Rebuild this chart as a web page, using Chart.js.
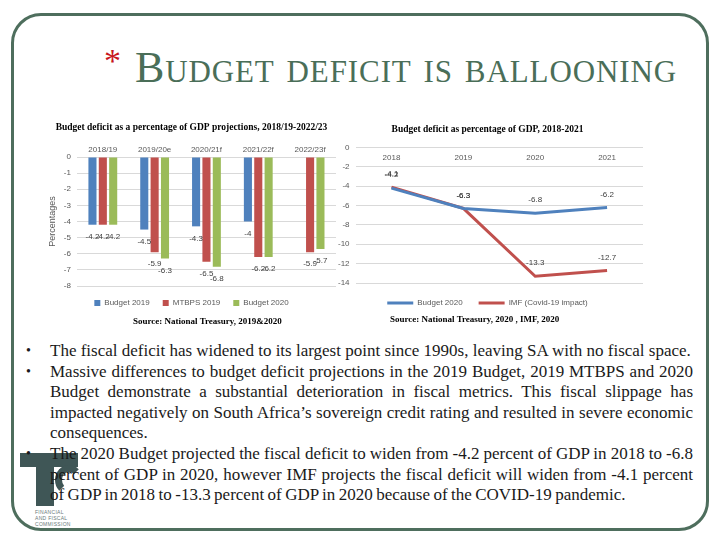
<!DOCTYPE html>
<html>
<head>
<meta charset="utf-8">
<script src="https://cdn.jsdelivr.net/npm/chart.js@4.4.0/dist/chart.umd.min.js"></script>
<style>
    body { margin: 0; width: 720px; height: 540px; background: #fff; position: relative; overflow: hidden; font-family: "Liberation Serif", serif; }
    .frame { position: absolute; left: 11px; top: 13px; width: 698px; height: 518px; border: 3px solid #4e6e5d; border-radius: 30px; box-sizing: border-box; }
    .title { position: absolute; left: 104px; top: 42px; font-size: 44px; letter-spacing: 0.9px; font-variant: small-caps; color: #4a6e58; white-space: nowrap; }
    .title .star { color: #c8161d; font-size: 34px; position: relative; top: -10px; margin-right: 13px; }
    #barBox { position: absolute; left: 47px; top: 116px; width: 291px; height: 203px; }
    #lineBox { position: absolute; left: 332px; top: 116px; width: 312px; height: 203px; }
    .src { position: absolute; font-weight: bold; font-size: 9px; color: #000; white-space: nowrap; }
    .bullets { position: absolute; left: 26px; top: 341px; width: 667px; font-size: 17px; line-height: 20.6px; color: #1a1a1a; margin: 0; padding: 0; list-style: none; }
    .bullets li { position: relative; padding-left: 24px; text-align: justify; }
    .bullets li::before { content: "\2022"; position: absolute; left: 0; font-size: 14px; }
    .bullets li.tight { word-spacing: -0.8px; }
    .logo div { position: absolute; background: #3f5656; }
    .logo .arc { background: none; border: 7px solid #3f5656; border-color: #3f5656 transparent transparent #3f5656; border-radius: 50%; }
    .logo .txt { background: none; color: #6a7a7a; font-family: "Liberation Sans", sans-serif; font-size: 5px; line-height: 6px; letter-spacing: 0.3px; }
</style>
</head>
<body>
<div class="frame"></div>
<div class="title"><span class="star">*</span>Budget deficit is ballooning</div>

<div id="barBox"><canvas id="barChart"></canvas></div>
<div id="lineBox"><canvas id="lineChart"></canvas></div>
<div class="src" style="left:133px; top:316px;">Source: National Treasury, 2019&amp;2020</div>
<div class="src" style="left:390px; top:314px;">Source: National Treasury, 2020 , IMF, 2020</div>

<div class="logo">
    <div style="left:20px; top:453px; width:58px; height:14px;"></div>
    <div style="left:36px; top:453px; width:18px; height:53px;"></div>
    <div class="arc" style="left:55px; top:465px; width:14px; height:16px;"></div>
    <div class="txt" style="left:35px; top:509px;">FINANCIAL<br>AND FISCAL<br>COMMISSION</div>
</div>

<ul class="bullets">
    <li>The fiscal deficit has widened to its largest point since 1990s, leaving SA with no fiscal space.</li>
    <li>Massive differences to budget deficit projections in the 2019 Budget, 2019 MTBPS and 2020 Budget demonstrate a substantial deterioration in fiscal metrics. This fiscal slippage has impacted negatively on South Africa’s sovereign credit rating and resulted in severe economic consequences.</li>
    <li class="tight">The 2020 Budget projected the fiscal deficit to widen from -4.2 percent of GDP in 2018 to -6.8 percent of GDP in 2020, however IMF projects the fiscal deficit will widen from -4.1 percent of&nbsp;GDP in 2018 to -13.3 percent of GDP in 2020 because of the COVID-19 pandemic.</li>
</ul>

<script>
// bar chart data
const barCategories = ['2018/19', '2019/20e', '2020/21f', '2021/22f', '2022/23f'];
const budget2019 = [-4.2, -4.5, -4.3, -4, null];
const mtbps2019 = [-4.2, -5.9, -6.5, -6.2, -5.9];
const budget2020 = [-4.2, -6.3, -6.8, -6.2, -5.7];

// line chart data
const years = ['2018', '2019', '2020', '2021'];
const budget2020Line = [-4.2, -6.3, -6.8, -6.2];
const imfCovid = [-4.1, -6.3, -13.3, -12.7];

const tickColor = '#595959';
const gridColor = '#d9d9d9';
const sans = '"Liberation Sans", Arial, sans-serif';
const serif = '"Liberation Serif", "Times New Roman", serif';

// draws the value of every point next to it
const valueLabels = {
    id: 'valueLabels',
    afterDatasetsDraw(chart, args, opts) {
        const ctx = chart.ctx;
        ctx.save();
        ctx.font = '8px ' + sans;
        ctx.fillStyle = '#404040';
        ctx.textAlign = 'center';
        ctx.textBaseline = 'middle';
        chart.data.datasets.forEach((ds, i) => {
            const meta = chart.getDatasetMeta(i);
            meta.data.forEach((el, j) => {
                const v = ds.data[j];
                if (v === null || v === undefined) return;
                ctx.fillText(String(v), el.x, el.y + opts.offset);
            });
        });
        ctx.restore();
    }
};

new Chart(document.getElementById('barChart'), {
    type: 'bar',
    data: {
        labels: barCategories,
        datasets: [
            { label: 'Budget 2019', data: budget2019, backgroundColor: '#4f81bd' },
            { label: 'MTBPS 2019', data: mtbps2019, backgroundColor: '#c0504d' },
            { label: 'Budget 2020', data: budget2020, backgroundColor: '#9bbb59' }
        ]
    },
    options: {
        responsive: true,
        maintainAspectRatio: false,
        animation: false,
        datasets: { bar: { categoryPercentage: 0.6, barPercentage: 0.78 } },
        layout: { padding: { right: 2, bottom: 2 } },
        plugins: {
            title: {
                display: true,
                text: 'Budget deficit as a percentage of GDP projections, 2018/19-2022/23',
                font: { family: serif, size: 9.5, weight: 'bold' },
                color: '#000',
                padding: { top: 6, bottom: 10 }
            },
            legend: {
                position: 'bottom',
                labels: { boxWidth: 6, boxHeight: 6, font: { family: sans, size: 8 }, color: tickColor, padding: 13 }
            },
            tooltip: { enabled: false },
            valueLabels: { offset: 12 }
        },
        scales: {
            x: {
                position: 'top',
                grid: { display: false, drawTicks: false },
                border: { display: false },
                ticks: { font: { family: sans, size: 8 }, color: tickColor, padding: 2 }
            },
            y: {
                min: -8,
                max: 0,
                ticks: { stepSize: 1, font: { family: sans, size: 8 }, color: tickColor, padding: 6 },
                grid: { color: gridColor, drawTicks: false },
                border: { display: false },
                title: { display: true, text: 'Percentages', font: { family: sans, size: 9 }, color: tickColor, padding: 0 }
            }
        }
    },
    plugins: [valueLabels]
});

new Chart(document.getElementById('lineChart'), {
    type: 'line',
    data: {
        labels: years,
        datasets: [
            { label: 'Budget 2020', data: budget2020Line, borderColor: '#4f81bd', backgroundColor: '#4f81bd', borderWidth: 3, pointRadius: 0 },
            { label: 'IMF (Covid-19 impact)', data: imfCovid, borderColor: '#c0504d', backgroundColor: '#c0504d', borderWidth: 3, pointRadius: 0 }
        ]
    },
    options: {
        responsive: true,
        maintainAspectRatio: false,
        animation: false,
        layout: { padding: { right: 1, bottom: 2 } },
        plugins: {
            title: {
                display: true,
                text: 'Budget deficit as percentage of GDP, 2018-2021',
                font: { family: serif, size: 9.5, weight: 'bold' },
                color: '#000',
                padding: { top: 8, bottom: 12 }
            },
            legend: {
                position: 'bottom',
                labels: { usePointStyle: true, pointStyle: 'line', pointStyleWidth: 26, font: { family: sans, size: 8 }, color: tickColor, padding: 16 }
            },
            tooltip: { enabled: false },
            valueLabels: { offset: -13 }
        },
        scales: {
            x: {
                position: { y: 0 },
                offset: true,
                grid: { display: false, drawTicks: false },
                border: { display: false },
                ticks: { font: { family: sans, size: 8 }, color: tickColor, padding: 6 }
            },
            y: {
                min: -14,
                max: 0,
                ticks: { stepSize: 2, font: { family: sans, size: 8 }, color: tickColor, padding: 6 },
                grid: { color: gridColor, drawTicks: false },
                border: { display: false }
            }
        }
    },
    plugins: [valueLabels]
});
</script>
</body>
</html>
